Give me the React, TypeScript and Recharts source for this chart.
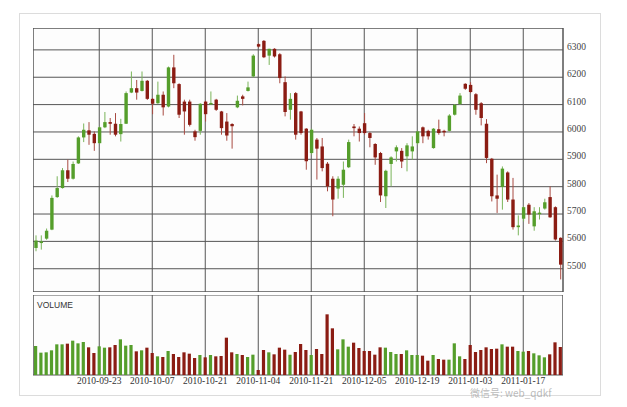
import React from 'react';
import { ComposedChart, Bar, XAxis, YAxis, CartesianGrid, ReferenceArea, Cell } from 'recharts';

const opens = [5576,5594,5610,5643,5762,5795,5860,5829,5885,5980,6006,5993,5959,6017,6036,6030,5992,6030,6144,6160,6150,6187,6121,6105,6136,6093,6236,6175,6111,6111,6002,6004,6111,6102,6118,6075,6038,6029,6090,6130,6150,6203,6321,6333,6279,6304,6284,6182,6081,6142,6075,6012,5923,5972,5947,5884,5829,5793,5807,5871,6020,6012,6032,5996,5956,5923,5765,5883,5929,5931,5911,5929,5959,6017,6004,5941,6010,6004,6004,6063,6102,6176,6172,6138,6105,6030,5902,5768,5799,5852,5753,5652,5683,5734,5655,5700,5720,5762,5725,5613];
const highs = [5622,5622,5647,5768,5838,5868,5899,5892,5984,6031,6036,6002,6020,6073,6051,6069,6048,6148,6221,6190,6221,6190,6124,6184,6148,6239,6282,6178,6118,6118,6008,6105,6114,6148,6121,6077,6069,6032,6133,6136,6184,6284,6324,6336,6304,6306,6288,6203,6142,6146,6077,6014,6012,5978,5978,5890,5838,5838,5892,5972,6029,6020,6069,6000,5959,5927,5862,5911,5951,5941,5959,5984,6004,6020,6008,6014,6045,6008,6065,6102,6142,6178,6182,6142,6109,6047,5905,5844,5874,5856,5832,5695,5728,5740,5725,5725,5756,5801,5728,5615];
const lows = [5564,5570,5606,5641,5759,5793,5817,5826,5883,5963,5953,5931,5957,6014,5990,5984,5965,6029,6142,6118,6148,6117,6065,6103,6060,6090,6160,6051,5990,6020,5968,5990,6038,6099,6077,5990,5968,5939,6087,6097,6148,6199,6308,6270,6245,6272,6178,6057,6045,5972,5990,5862,5917,5826,5856,5783,5692,5756,5759,5868,5984,5965,5990,5944,5880,5744,5722,5801,5892,5868,5856,5899,5953,5959,5972,5939,5990,5984,6002,6060,6099,6154,6142,6063,6024,5886,5746,5704,5716,5744,5643,5622,5673,5664,5639,5680,5716,5686,5603,5461];
const closes = [5603,5600,5639,5759,5795,5860,5829,5883,5980,6008,5990,5959,6017,6036,6030,5990,6029,6142,6160,6144,6187,6121,6103,6136,6090,6236,6178,6063,6075,6026,5981,6103,6065,6106,6081,6014,5987,6021,6114,6121,6163,6279,6312,6273,6304,6276,6197,6073,6121,5990,5996,5893,6008,5939,5868,5801,5753,5829,5862,5963,6014,5996,5996,5978,5907,5768,5858,5907,5944,5892,5951,5947,6002,5984,5984,6012,5996,5999,6060,6099,6133,6158,6146,6081,6051,5905,5765,5756,5866,5753,5652,5658,5725,5698,5710,5705,5743,5688,5607,5515];
const volumes = [87,67,68,74,92,92,94,103,95,99,83,66,86,82,83,90,107,88,90,71,74,82,66,56,54,72,63,54,68,64,51,60,53,60,56,57,112,68,63,60,54,61,15,75,68,62,82,76,61,69,93,75,60,78,63,182,140,77,107,85,97,81,72,72,61,83,82,69,63,63,74,60,60,58,43,60,48,46,46,95,56,48,90,69,75,83,78,79,92,85,85,72,70,72,65,59,53,62,98,84];

const tickIndexes = [12, 22, 32, 42, 52, 62, 72, 82, 92];
const tickLabels = ['2010-09-23', '2010-10-07', '2010-10-21', '2010-11-04', '2010-11-21', '2010-12-05', '2010-12-19', '2011-01-03', '2011-01-17'];
const priceTicks = [5500, 5600, 5700, 5800, 5900, 6000, 6100, 6200, 6300];
const priceDomain = [5415, 6380];
const volumeDomain = [0, 240];

const GREEN = '#559e2b';
const RED = '#8b1c13';
const GREEN_WICK = '#7ab45a';
const RED_WICK = '#a84a42';
const GRID = '#555555';

const data = opens.map((o, i) => ({
  idx: i,
  open: o,
  high: highs[i],
  low: lows[i],
  close: closes[i],
  range: [lows[i], highs[i]],
  volume: volumes[i],
  up: closes[i] >= o,
}));

const Candle = (props: any) => {
  const { x, y, width, height, payload } = props;
  if (!payload) return null;
  const { open, close, high, low } = payload;
  const up = close >= open;
  const top = Math.min(y, y + height);
  const h = Math.abs(height);
  const span = high - low || 1;
  const px = h / span;
  const yOpen = top + (high - open) * px;
  const yClose = top + (high - close) * px;
  const cx = x + width / 2;
  const bodyTop = Math.min(yOpen, yClose);
  const bodyH = Math.max(Math.abs(yOpen - yClose), 1.5);
  return (
    <g>
      <line x1={cx} x2={cx} y1={top} y2={top + h} stroke={up ? GREEN_WICK : RED_WICK} strokeWidth={1} />
      <rect x={cx - 1.7} y={bodyTop} width={3.4} height={bodyH} fill={up ? GREEN : RED} />
    </g>
  );
};

const PriceTick = (props: any) => {
  const { x, y, payload } = props;
  return (
    <text x={x} y={y} fontFamily="Liberation Serif" fontSize={9.5} fill="#444" textAnchor="start">
      {payload.value}
    </text>
  );
};

const fmtDate = (v: number) => {
  const k = tickIndexes.indexOf(v);
  return k >= 0 ? tickLabels[k] : '';
};

export default function App() {
  return (
    <div style={{ position: 'absolute', left: 0, top: 0, width: 627, height: 407, background: '#fff', overflow: 'hidden' }}>
      <div style={{ position: 'absolute', left: 19, top: 13, width: 582, height: 383, border: '1px solid #dcdcdc', boxSizing: 'border-box' }} />
      <div style={{ position: 'absolute', left: 33, top: 28 }}>
        <ComposedChart width={570} height={264} data={data} margin={{ top: 0, right: 0, bottom: 0, left: 0 }}>
          <XAxis dataKey="idx" type="number" domain={[-0.5, 99.5]} ticks={tickIndexes} hide allowDataOverflow />
          <YAxis
            orientation="right"
            type="number"
            domain={priceDomain}
            ticks={priceTicks}
            width={40}
            axisLine={false}
            tickLine={false}
            tickSize={2}
            tickMargin={2}
            tick={<PriceTick />}
            allowDataOverflow
          />
          <CartesianGrid stroke={GRID} strokeWidth={1} fill="#fdfdfd" />
          <ReferenceArea y1={priceDomain[0]} y2={priceDomain[1]} stroke={GRID} strokeWidth={1} fill="none" fillOpacity={0} />
          <Bar dataKey="range" barSize={4} shape={<Candle />} isAnimationActive={false} />
        </ComposedChart>
      </div>
      <div style={{ position: 'absolute', left: 33, top: 295 }}>
        <ComposedChart width={530} height={100} data={data} margin={{ top: 0, right: 0, bottom: 0, left: 0 }}>
          <XAxis
            dataKey="idx"
            type="number"
            domain={[-0.5, 99.5]}
            ticks={tickIndexes}
            tickFormatter={fmtDate}
            height={20}
            axisLine={false}
            tickLine={false}
            tickSize={0}
            tickMargin={2}
            interval={0}
            tick={{ fontFamily: 'Liberation Serif', fontSize: 9.5, fill: '#333' }}
            allowDataOverflow
          />
          <YAxis type="number" domain={volumeDomain} hide allowDataOverflow />
          <CartesianGrid stroke={GRID} strokeWidth={1} horizontal={false} fill="#fdfdfd" />
          <ReferenceArea y1={volumeDomain[0]} y2={volumeDomain[1]} stroke={GRID} strokeWidth={1} fill="none" fillOpacity={0} />
          <Bar dataKey="volume" barSize={3.2} isAnimationActive={false}>
            {data.map((d) => (
              <Cell key={d.idx} fill={d.up ? GREEN : RED} />
            ))}
          </Bar>
        </ComposedChart>
      </div>
      <div style={{ position: 'absolute', left: 37, top: 300, fontFamily: 'Liberation Sans', fontSize: 8.5, color: '#333' }}>VOLUME</div>
      <div style={{ position: 'absolute', left: 470, top: 387, fontFamily: 'Noto Sans CJK SC', fontSize: 10, lineHeight: '12px', color: 'rgba(140,140,140,0.6)', whiteSpace: 'nowrap' }}>
        微信号: web_qdkf
      </div>
    </div>
  );
}
